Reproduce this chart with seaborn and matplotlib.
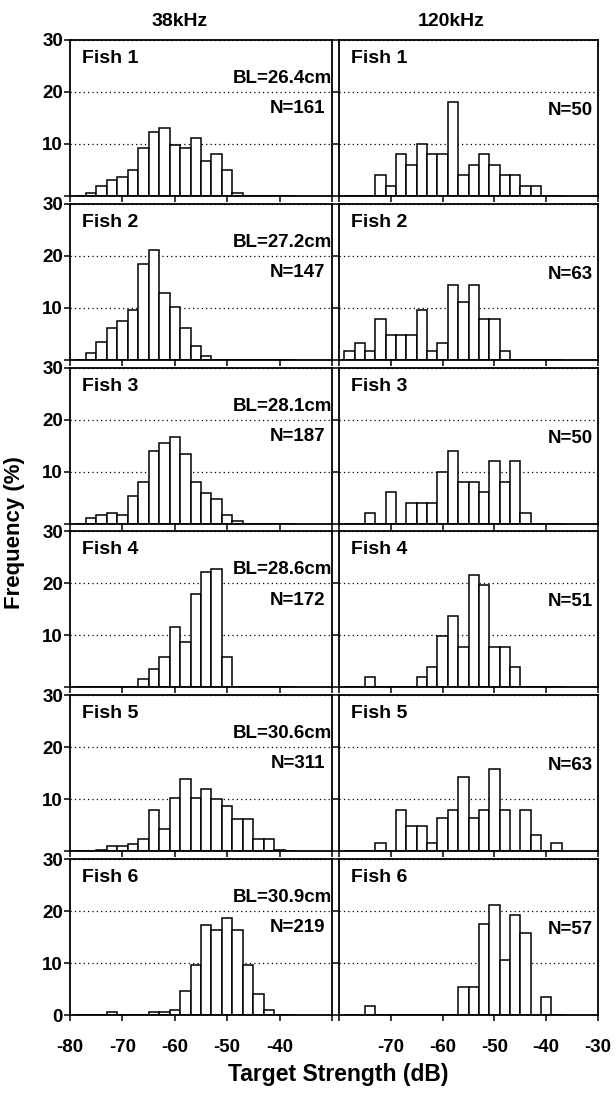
import pandas as pd
import matplotlib
matplotlib.use("Agg")
import matplotlib.pyplot as plt
import seaborn as sns

# bin centres of the 2 dB target strength bins (dB)
ts_centers = [-78, -76, -74, -72, -70, -68, -66, -64, -62, -60, -58,
              -56, -54, -52, -50, -48, -46, -44, -42, -40, -38]

fish_names = ["Fish 1", "Fish 2", "Fish 3", "Fish 4", "Fish 5", "Fish 6"]
body_lengths = ["BL=26.4cm", "BL=27.2cm", "BL=28.1cm", "BL=28.6cm", "BL=30.6cm", "BL=30.9cm"]
n_38 = [161, 147, 187, 172, 311, 219]
n_120 = [50, 63, 50, 51, 63, 57]

# frequency (%) in each bin, 38 kHz
f38_fish1 = [0, 0.6, 1.9, 3.1, 3.7, 5.0, 9.3, 12.4, 13.0, 9.9, 9.3, 11.2, 6.8, 8.1, 5.0, 0.6, 0, 0, 0, 0, 0]
f38_fish2 = [0, 1.4, 3.4, 6.1, 7.5, 9.5, 18.4, 21.1, 12.9, 10.2, 6.1, 2.7, 0.7, 0, 0, 0, 0, 0, 0, 0, 0]
f38_fish3 = [0, 1.1, 1.6, 2.1, 1.6, 5.3, 8.0, 13.9, 15.5, 16.6, 13.4, 8.0, 5.9, 4.8, 1.6, 0.5, 0, 0, 0, 0, 0]
f38_fish4 = [0, 0, 0, 0, 0, 0, 1.7, 3.5, 5.8, 11.6, 8.7, 18.0, 22.1, 22.7, 5.8, 0, 0, 0, 0, 0, 0]
f38_fish5 = [0, 0, 0.3, 1.0, 1.0, 1.3, 2.3, 8.0, 4.2, 10.3, 13.8, 10.3, 11.9, 10.0, 8.7, 6.1, 6.1, 2.3, 2.3, 0.3, 0]
f38_fish6 = [0, 0, 0, 0.5, 0, 0, 0, 0.5, 0.5, 0.9, 4.6, 9.6, 17.4, 16.4, 18.7, 16.4, 9.6, 4.1, 0.9, 0, 0]

# frequency (%) in each bin, 120 kHz
f120_fish1 = [0, 0, 0, 4, 2, 8, 6, 10, 8, 8, 18, 4, 6, 8, 6, 4, 4, 2, 2, 0, 0]
f120_fish2 = [1.6, 3.2, 1.6, 7.9, 4.8, 4.8, 4.8, 9.5, 1.6, 3.2, 14.3, 11.1, 14.3, 7.9, 7.9, 1.6, 0, 0, 0, 0, 0]
f120_fish3 = [0, 0, 2, 0, 6, 0, 4, 4, 4, 10, 14, 8, 8, 6, 12, 8, 12, 2, 0, 0, 0]
f120_fish4 = [0, 0, 2.0, 0, 0, 0, 0, 2.0, 3.9, 9.8, 13.7, 7.8, 21.6, 19.6, 7.8, 7.8, 3.9, 0, 0, 0, 0]
f120_fish5 = [0, 0, 0, 1.6, 0, 7.9, 4.8, 4.8, 1.6, 6.3, 7.9, 14.3, 6.3, 7.9, 15.9, 7.9, 0, 7.9, 3.2, 0, 1.6]
f120_fish6 = [0, 0, 1.8, 0, 0, 0, 0, 0, 0, 0, 0, 5.3, 5.3, 17.5, 21.1, 10.5, 19.3, 15.8, 0, 3.5, 0]

freq_38 = [f38_fish1, f38_fish2, f38_fish3, f38_fish4, f38_fish5, f38_fish6]
freq_120 = [f120_fish1, f120_fish2, f120_fish3, f120_fish4, f120_fish5, f120_fish6]

x_ticks = [-80, -70, -60, -50, -40, -30]
x_labels_left = ["-80", "-70", "-60", "-50", "-40", ""]
x_labels_right = ["", "-70", "-60", "-50", "-40", "-30"]
y_ticks = [0, 10, 20, 30]

sns.set_style("ticks")
plt.rcParams["font.family"] = ["Liberation Sans", "DejaVu Sans"]
plt.rcParams["font.weight"] = "bold"
for key in ["text.color", "axes.labelcolor", "xtick.color", "ytick.color", "axes.edgecolor"]:
    plt.rcParams[key] = "black"

W, H = 616, 1093
fig = plt.figure(figsize=(W / 100, H / 100), dpi=100)

bin_range = (min(ts_centers) - 1, max(ts_centers) + 1)
col_x = [70, 339]
col_w = [262, 259]
panel_h = 156

for i in range(6):
    top = 40 + 163.8 * i
    for j, (freqs, counts) in enumerate([(freq_38, n_38), (freq_120, n_120)]):
        ax = fig.add_axes([col_x[j] / W, 1 - (top + panel_h) / H, col_w[j] / W, panel_h / H])
        df = pd.DataFrame({"ts": ts_centers, "pct": freqs[i]})
        sns.histplot(data=df, x="ts", weights="pct", binwidth=2, binrange=bin_range,
                     color="white", edgecolor="black", linewidth=1.1, alpha=1, ax=ax)
        ax.set_xlim(-80, -30)
        ax.set_ylim(0, 30)
        ax.set_xlabel("")
        ax.set_ylabel("")
        ax.set_axisbelow(True)
        ax.set_yticks(y_ticks)
        ax.grid(axis="y", color="black", linestyle=(0, (1, 2.5)), linewidth=0.9)
        ax.set_xticks(x_ticks)
        for s in ax.spines.values():
            s.set_visible(True)
            s.set_linewidth(1.3)
        ax.tick_params(direction="out", length=4, width=1.1, labelsize=13.5)
        ax.tick_params(axis="y", pad=1)
        ax.tick_params(axis="x", pad=13)

        if j == 0:
            ylab = ["0", "10", "20", "30"] if i == 5 else ["", "10", "20", "30"]
            ax.set_yticklabels(ylab, fontweight="bold")
        else:
            ax.set_yticklabels([])
        if i == 5:
            ax.set_xticklabels(x_labels_left if j == 0 else x_labels_right, fontweight="bold")
        else:
            ax.set_xticklabels([])

        ax.text(0.045, 0.882, fish_names[i], transform=ax.transAxes, ha="left", va="center",
                fontsize=14, fontweight="bold")
        if j == 0:
            ax.text(0.999, 0.753, body_lengths[i], transform=ax.transAxes, ha="right", va="center",
                    fontsize=13.5, fontweight="bold")
            ax.text(0.973, 0.559, f"N={counts[i]}", transform=ax.transAxes, ha="right", va="center",
                    fontsize=13.5, fontweight="bold")
        else:
            ax.text(0.982, 0.548, f"N={counts[i]}", transform=ax.transAxes, ha="right", va="center",
                    fontsize=13.5, fontweight="bold")

fig.text(180 / W, 1 - 22 / H, "38kHz", ha="center", va="center", fontsize=14, fontweight="bold")
fig.text(451 / W, 1 - 22 / H, "120kHz", ha="center", va="center", fontsize=14, fontweight="bold")
fig.text(15 / W, 1 - 533 / H, "Frequency (%)", rotation=90, ha="center", va="center",
         fontsize=16, fontweight="bold")
fig.text(338 / W, 1 - 1074 / H, "Target Strength (dB)", ha="center", va="center",
         fontsize=16.5, fontweight="bold")

fig.savefig("out.png", dpi=100)
